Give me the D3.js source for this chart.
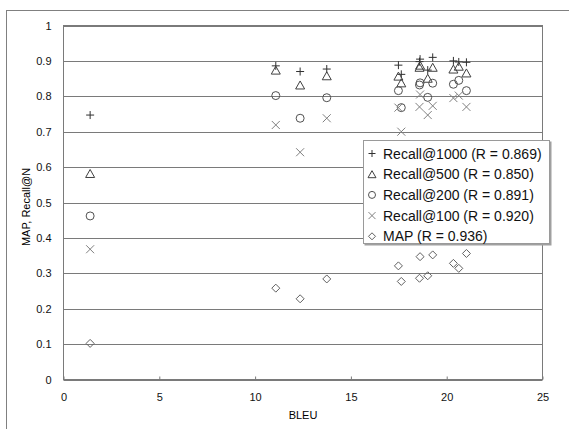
<!DOCTYPE html>
<html>
<head>
<meta charset="utf-8">
<script src="https://cdn.jsdelivr.net/npm/d3@7"></script>
<style>
  body { margin: 0; background: #fff; }
  svg { display: block; font-family: "Liberation Sans", Arial, sans-serif; }
</style>
</head>
<body>
<div id="chart"></div>
<script>
// BLEU score of each system and the retrieval scores
const bleu       = [1.39, 11.08, 12.35, 13.74, 17.48, 17.63, 18.61, 18.58, 19.01, 19.27, 20.35, 20.63, 21.03];
const recall1000 = [0.747, 0.886, 0.870, 0.877, 0.888, 0.862, 0.905, 0.898, 0.874, 0.910, 0.900, 0.897, 0.896];
const recall500  = [0.582, 0.874, 0.832, 0.858, 0.857, 0.838, 0.888, 0.882, 0.851, 0.882, 0.877, 0.885, 0.866];
const recall200  = [0.462, 0.802, 0.738, 0.796, 0.816, 0.768, 0.838, 0.832, 0.797, 0.837, 0.834, 0.845, 0.816];
const recall100  = [0.368, 0.719, 0.642, 0.738, 0.768, 0.700, 0.805, 0.770, 0.747, 0.773, 0.795, 0.802, 0.770];
const mapScore   = [0.102, 0.258, 0.228, 0.284, 0.321, 0.277, 0.347, 0.286, 0.293, 0.352, 0.328, 0.314, 0.356];

const seriesNames = ["Recall@1000 (R = 0.869)", "Recall@500 (R = 0.850)", "Recall@200 (R = 0.891)",
                     "Recall@100 (R = 0.920)", "MAP (R = 0.936)"];
const xTicks = [0, 5, 10, 15, 20, 25];
const yTicks = [0, 0.1, 0.2, 0.3, 0.4, 0.5, 0.6, 0.7, 0.8, 0.9, 1];

const width = 569;
const height = 429;

const series = [
  { name: seriesNames[0], values: recall1000, shape: "plus",     color: "#303030" },
  { name: seriesNames[1], values: recall500,  shape: "triangle", color: "#404040" },
  { name: seriesNames[2], values: recall200,  shape: "circle",   color: "#505050" },
  { name: seriesNames[3], values: recall100,  shape: "times",    color: "#808080" },
  { name: seriesNames[4], values: mapScore,   shape: "diamond",  color: "#606060" }
];

// outline-only marker paths, s = half size
function marker(shape, s) {
  if (shape === "plus") return `M${-s},0H${s}M0,${-s}V${s}`;
  if (shape === "times") return `M${-s},${-s}L${s},${s}M${-s},${s}L${s},${-s}`;
  if (shape === "triangle") return `M0,${-s}L${s + 0.5},${s}L${-s - 0.5},${s}Z`;
  if (shape === "diamond") return `M0,${-s}L${s},0L0,${s}L${-s},0Z`;
  return `M${s},0A${s},${s} 0 1,1 ${-s},0A${s},${s} 0 1,1 ${s},0`;
}

const svg = d3.select("#chart").append("svg")
  .attr("width", width)
  .attr("height", height);

// outer chart border (only the left and top edges are in view)
svg.append("rect")
  .attr("x", 6.5).attr("y", 10.5)
  .attr("width", width + 10).attr("height", height + 10)
  .attr("fill", "none").attr("stroke", "#808080");

const x = d3.scaleLinear().domain([0, 25]).range([63.5, 542.5]);
const y = d3.scaleLinear().domain([0, 1]).range([379.5, 25.5]);

// horizontal gridlines
svg.append("g")
  .selectAll("line")
  .data(yTicks)
  .enter()
  .append("line")
  .attr("x1", x(0)).attr("x2", x(25))
  .attr("y1", d => Math.round(y(d)) + 0.5).attr("y2", d => Math.round(y(d)) + 0.5)
  .attr("stroke", "#7a7a7a");

// plot frame
svg.append("rect")
  .attr("x", x(0)).attr("y", y(1))
  .attr("width", x(25) - x(0)).attr("height", y(0) - y(1))
  .attr("fill", "none").attr("stroke", "#7a7a7a");

const xAxis = svg.append("g")
  .attr("transform", `translate(0, ${y(0)})`)
  .call(d3.axisBottom(x).tickValues(xTicks).tickSizeInner(-3).tickSizeOuter(0).tickPadding(14));
xAxis.select(".domain").remove();
xAxis.selectAll("line").attr("stroke", "#7a7a7a");
xAxis.selectAll("text").attr("font-size", "11px").attr("fill", "#111");

const yAxis = svg.append("g")
  .attr("transform", `translate(${x(0)}, 0)`)
  .call(d3.axisLeft(y).tickValues(yTicks).tickFormat(d3.format("~g")).tickSize(0).tickPadding(12));
yAxis.select(".domain").remove();
yAxis.selectAll("text").attr("font-size", "11px").attr("fill", "#111");

svg.append("text")
  .attr("x", 303).attr("y", 419)
  .attr("text-anchor", "middle")
  .attr("font-size", "11px")
  .text("BLEU");

svg.append("text")
  .attr("transform", "translate(30, 207) rotate(-90)")
  .attr("text-anchor", "middle")
  .attr("font-size", "11px")
  .text("MAP, Recall@N");

// data markers
series.forEach(s => {
  svg.append("g")
    .selectAll("path")
    .data(s.values)
    .enter()
    .append("path")
    .attr("transform", (d, i) => `translate(${x(bleu[i])}, ${y(d)})`)
    .attr("d", marker(s.shape, 4))
    .attr("fill", "none")
    .attr("stroke", s.color)
    .attr("stroke-width", 1);
});

// legend
const legend = svg.append("g").attr("transform", "translate(363, 140)");
legend.append("rect")
  .attr("x", 1.5).attr("y", 1.5)
  .attr("width", 187).attr("height", 104)
  .attr("fill", "#a0a0a0");
legend.append("rect")
  .attr("x", 0.5).attr("y", 0.5)
  .attr("width", 186).attr("height", 103)
  .attr("fill", "#fff").attr("stroke", "#9a9a9a");

const item = legend.selectAll(".legend-item")
  .data(series)
  .enter()
  .append("g")
  .attr("class", "legend-item")
  .attr("transform", (d, i) => `translate(9, ${13.5 + i * 20.7})`);

item.append("path")
  .attr("d", d => marker(d.shape, 3.5))
  .attr("fill", "none")
  .attr("stroke", d => d.color);

item.append("text")
  .attr("x", 11)
  .attr("y", 5)
  .attr("font-size", "14px")
  .attr("fill", "#111")
  .text(d => d.name);
</script>
</body>
</html>
